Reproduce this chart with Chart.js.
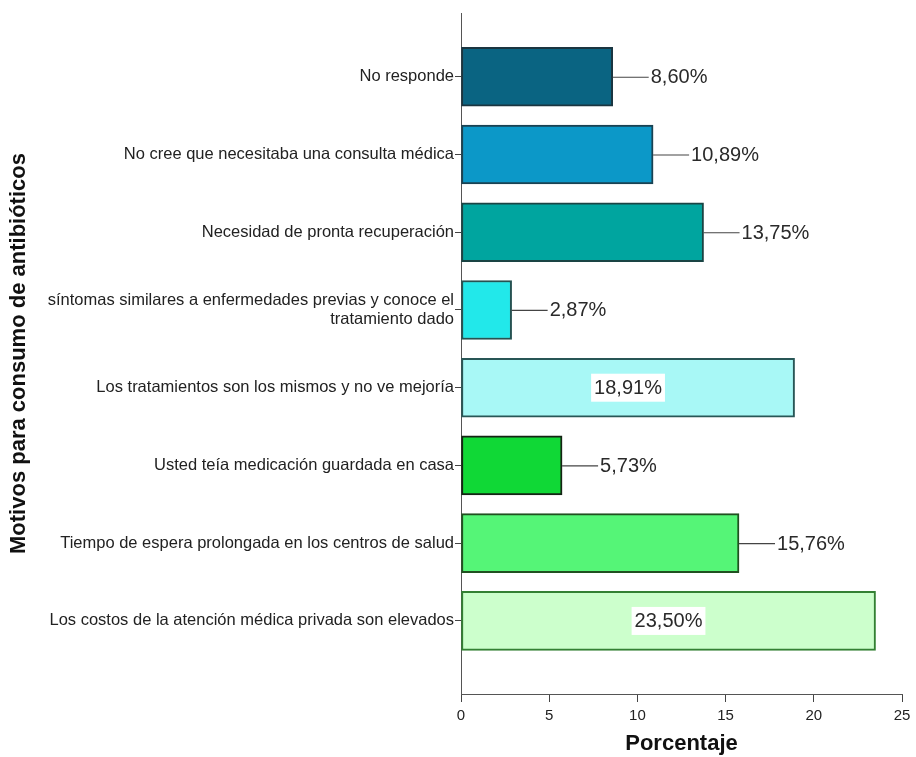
<!DOCTYPE html>
<html>
<head>
<meta charset="utf-8">
<script src="https://cdn.jsdelivr.net/npm/chart.js@4"></script>
<style>
  html, body { margin: 0; padding: 0; background: #fff; }
  #wrap { width: 916px; height: 757px; }
</style>
</head>
<body>
<div id="wrap"><canvas id="motivosChart" width="916" height="757"></canvas></div>
<script>
const motivos = [
    'No responde',
    'No cree que necesitaba una consulta médica',
    'Necesidad de pronta recuperación',
    ['síntomas similares a enfermedades previas y conoce el', 'tratamiento dado'],
    'Los tratamientos son los mismos y no ve mejoría',
    'Usted teía medicación guardada en casa',
    'Tiempo de espera prolongada en los centros de salud',
    'Los costos de la atención médica privada son elevados'
];
const porcentajes = [8.60, 10.89, 13.75, 2.87, 18.91, 5.73, 15.76, 23.50];
const xTicks = [0, 5, 10, 15, 20, 25];

const colores = ['#0a6482', '#0c98c8', '#00a59f', '#22e8ea', '#a8f8f6', '#10d836', '#55f577', '#ccffcc'];
const bordes = ['#1a3540', '#1a4252', '#1a4444', '#265252', '#285656', '#142414', '#205020', '#338033'];

// labels on long bars go inside, the rest get a leader line
const INSIDE_FROM = 18;
const LEADER = 36;

const formato = v => v.toFixed(2).replace('.', ',') + '%';

const etiquetas = {
    id: 'etiquetas',
    afterDatasetsDraw(chart) {
        const ctx = chart.ctx;
        const meta = chart.getDatasetMeta(0);
        ctx.save();
        ctx.font = '20px "Liberation Sans", Arial, sans-serif';
        ctx.textBaseline = 'middle';
        meta.data.forEach((bar, i) => {
            const v = porcentajes[i];
            const txt = formato(v);
            const w = ctx.measureText(txt).width;
            if (v >= INSIDE_FROM) {
                const cx = (bar.x + bar.base) / 2;
                ctx.fillStyle = '#fff';
                ctx.fillRect(cx - w / 2 - 3, bar.y - 14, w + 6, 28);
                ctx.fillStyle = '#2a2a2a';
                ctx.textAlign = 'center';
                ctx.fillText(txt, cx, bar.y + 1);
            } else {
                ctx.strokeStyle = '#444';
                ctx.lineWidth = 1.2;
                ctx.beginPath();
                ctx.moveTo(bar.x, bar.y + 0.5);
                ctx.lineTo(bar.x + LEADER, bar.y + 0.5);
                ctx.stroke();
                ctx.fillStyle = '#2a2a2a';
                ctx.textAlign = 'left';
                ctx.fillText(txt, bar.x + LEADER + 2, bar.y + 1);
            }
        });
        ctx.restore();
    }
};

const ctx = document.getElementById('motivosChart').getContext('2d');
new Chart(ctx, {
    type: 'bar',
    data: {
        datasets: [{
            data: porcentajes.map((v, i) => ({ x: v, y: i })),
            backgroundColor: colores,
            borderColor: bordes,
            borderWidth: 2,
            borderSkipped: false,
            barThickness: 59
        }]
    },
    options: {
        indexAxis: 'y',
        responsive: false,
        animation: false,
        layout: { padding: { left: 0, top: 13, right: 14, bottom: 0 } },
        plugins: {
            legend: { display: false },
            tooltip: { enabled: false }
        },
        scales: {
            x: {
                type: 'linear',
                min: 0,
                max: 25,
                afterBuildTicks: scale => { scale.ticks = xTicks.map(v => ({ value: v })); },
                afterFit: scale => { scale.height = 63; },
                grid: { drawOnChartArea: false, drawTicks: true, tickLength: 8, color: '#444' },
                border: { color: '#555', width: 1 },
                ticks: {
                    padding: 5,
                    color: '#222',
                    font: { family: '"Liberation Sans", Arial, sans-serif', size: 15 }
                },
                title: {
                    display: true,
                    text: 'Porcentaje',
                    color: '#111',
                    padding: { top: 0, bottom: 0 },
                    font: { family: '"Liberation Sans", Arial, sans-serif', size: 22, weight: 'bold' }
                }
            },
            y: {
                type: 'linear',
                reverse: true,
                offset: false,
                min: -0.82,
                max: 7.94,
                afterBuildTicks: scale => { scale.ticks = motivos.map((m, i) => ({ value: i })); },
                afterFit: scale => { scale.width = 461; },
                grid: { offset: false, drawOnChartArea: false, drawTicks: true, tickLength: 6, color: '#444' },
                border: { color: '#555', width: 1 },
                ticks: {
                    padding: 1,
                    color: '#222',
                    callback: v => motivos[v],
                    font: { family: '"Liberation Sans", Arial, sans-serif', size: 16.5 }
                },
                title: {
                    display: true,
                    text: 'Motivos para consumo de antibióticos',
                    color: '#111',
                    padding: { top: 6, bottom: 0 },
                    font: { family: '"Liberation Sans", Arial, sans-serif', size: 22, weight: 'bold' }
                }
            }
        }
    },
    plugins: [etiquetas]
});
</script>
</body>
</html>
